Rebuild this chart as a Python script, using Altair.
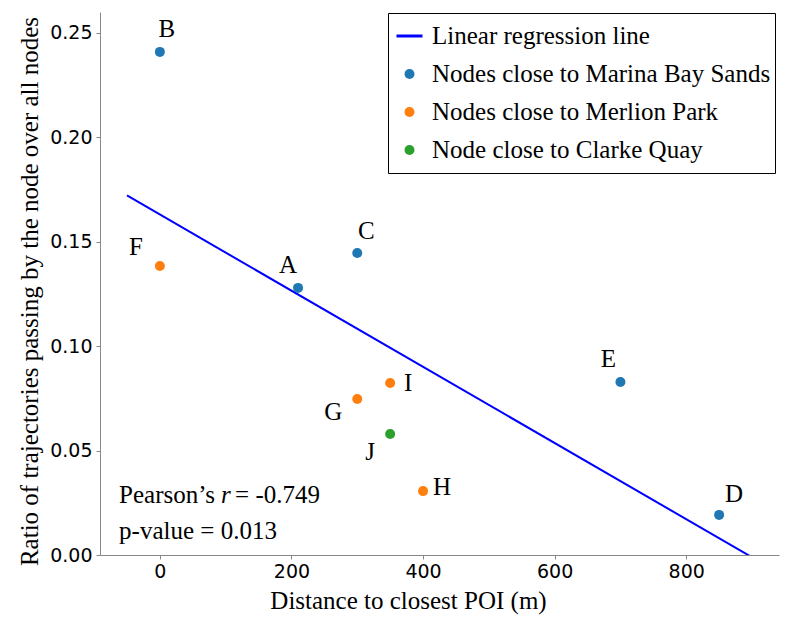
import altair as alt
import pandas as pd

# ---- data ----
node_labels = ["A", "B", "C", "D", "E", "F", "G", "H", "I", "J"]
distance_m = [210, 0, 300, 850, 700, 0, 300, 400, 350, 350]
ratio = [0.1279, 0.2409, 0.1446, 0.0192, 0.0828, 0.1384, 0.0747, 0.0306, 0.0824, 0.0579]
group = (["Nodes close to Marina Bay Sands"] * 5
         + ["Nodes close to Merlion Park"] * 4
         + ["Node close to Clarke Quay"])

legend_order = ["Linear regression line", "Nodes close to Marina Bay Sands",
                "Nodes close to Merlion Park", "Node close to Clarke Quay"]
legend_colors = ["#0000ff", "#1f77b4", "#ff7f0e", "#2ca02c"]
legend_shapes = ["M-2.6,-0.28H2.6V0.28H-2.6Z", "circle", "circle", "circle"]

x_ticks = [0, 200, 400, 600, 800]
y_ticks = [0.0, 0.05, 0.10, 0.15, 0.20, 0.25]

stats_lines = ["Pearson\u2019s", "r", "= -0.749", "p-value = 0.013"]

# label offsets in pixels (layout only)
label_dx = [-10, 7, 9, 15, -12, -24, -24, 19, 18, -20]
label_dy = [-23, -23, -22, -21, -23, -19, 13, -4, 0, 18]

df = pd.DataFrame({
    "label": node_labels,
    "distance": distance_m,
    "ratio": ratio,
    "group": group,
})

SERIF = "Liberation Serif"
x_scale = alt.Scale(domain=[-91, 941], nice=False, zero=False)
y_scale = alt.Scale(domain=[0, 0.26], nice=False, zero=False)

x_axis = alt.Axis(values=x_ticks, title="Distance to closest POI (m)", grid=False,
                  domainColor="#888888", tickColor="#888888", tickSize=4,
                  labelFont="DejaVu Sans", labelFontSize=19, labelColor="black",
                  labelPadding=3, labelFlush=False,
                  titleFont=SERIF, titleFontSize=25, titleFontWeight="normal",
                  titleColor="black", titleX=308, titleY=53, titleBaseline="alphabetic")
y_axis = alt.Axis(values=y_ticks, format=".2f",
                  title="Ratio of trajectories passing by the node over all nodes",
                  grid=False, domainColor="#888888", tickColor="#888888", tickSize=4,
                  labelFont="DejaVu Sans", labelFontSize=19, labelColor="black",
                  labelPadding=4, labelFlush=False,
                  titleFont=SERIF, titleFontSize=25, titleFontWeight="normal",
                  titleColor="black", titleX=-63, titleY=279, titleAlign="center",
                  titleBaseline="alphabetic", titleAngle=270)

legend = alt.Legend(orient="none", legendX=288, legendY=1, title=None,
                    labelFont=SERIF, labelFontSize=25, labelColor="black", labelLimit=600,
                    symbolSize=100, symbolOffset=5, labelOffset=10, padding=4,
                    clipHeight=38, rowPadding=0, strokeColor="black", fillColor="white",
                    cornerRadius=0, symbolStrokeWidth=0)

base = alt.Chart(df)
X = alt.X("distance:Q", scale=x_scale, axis=x_axis)
Y = alt.Y("ratio:Q", scale=y_scale, axis=y_axis)

line = base.transform_regression(
    "distance", "ratio", extent=[-50, 900]
).mark_line(color="#0000ff", strokeWidth=2, clip=True).encode(x=X, y=Y)

points = base.mark_point(filled=True, size=100, opacity=1).encode(
    x=X, y=Y,
    color=alt.Color("group:N", scale=alt.Scale(domain=legend_order, range=legend_colors),
                    legend=legend),
    shape=alt.Shape("group:N", scale=alt.Scale(domain=legend_order, range=legend_shapes),
                    legend=legend),
)

label_layers = []
for lab, ddx, ddy in zip(node_labels, label_dx, label_dy):
    label_layers.append(
        base.transform_filter(alt.datum.label == lab).mark_text(
            font=SERIF, fontSize=25, align="center", baseline="middle",
            color="black", dx=ddx, dy=ddy
        ).encode(x=X, y=Y, text="label:N")
    )


def stat_text(txt, yv, dx, style="normal"):
    return alt.Chart(pd.DataFrame({"t": [txt]})).mark_text(
        font=SERIF, fontSize=25, align="left", baseline="alphabetic",
        dx=dx, fontStyle=style, color="black"
    ).encode(x=alt.datum(-62), y=alt.datum(yv), text="t:N")


stats = [stat_text(stats_lines[0], 0.0249, 0),
         stat_text(stats_lines[1], 0.0249, 102, "italic"),
         stat_text(stats_lines[2], 0.0249, 116),
         stat_text(stats_lines[3], 0.0077, 0)]

chart = alt.layer(line, points, *label_layers, *stats).properties(
    width=679, height=543,
    autosize=alt.AutoSizeParams(type="none"),
    padding={"left": 92, "top": 4, "right": 2, "bottom": 64},
).configure_view(stroke="transparent")

chart.save("out.html", embed_options={"renderer": "svg", "actions": False})
